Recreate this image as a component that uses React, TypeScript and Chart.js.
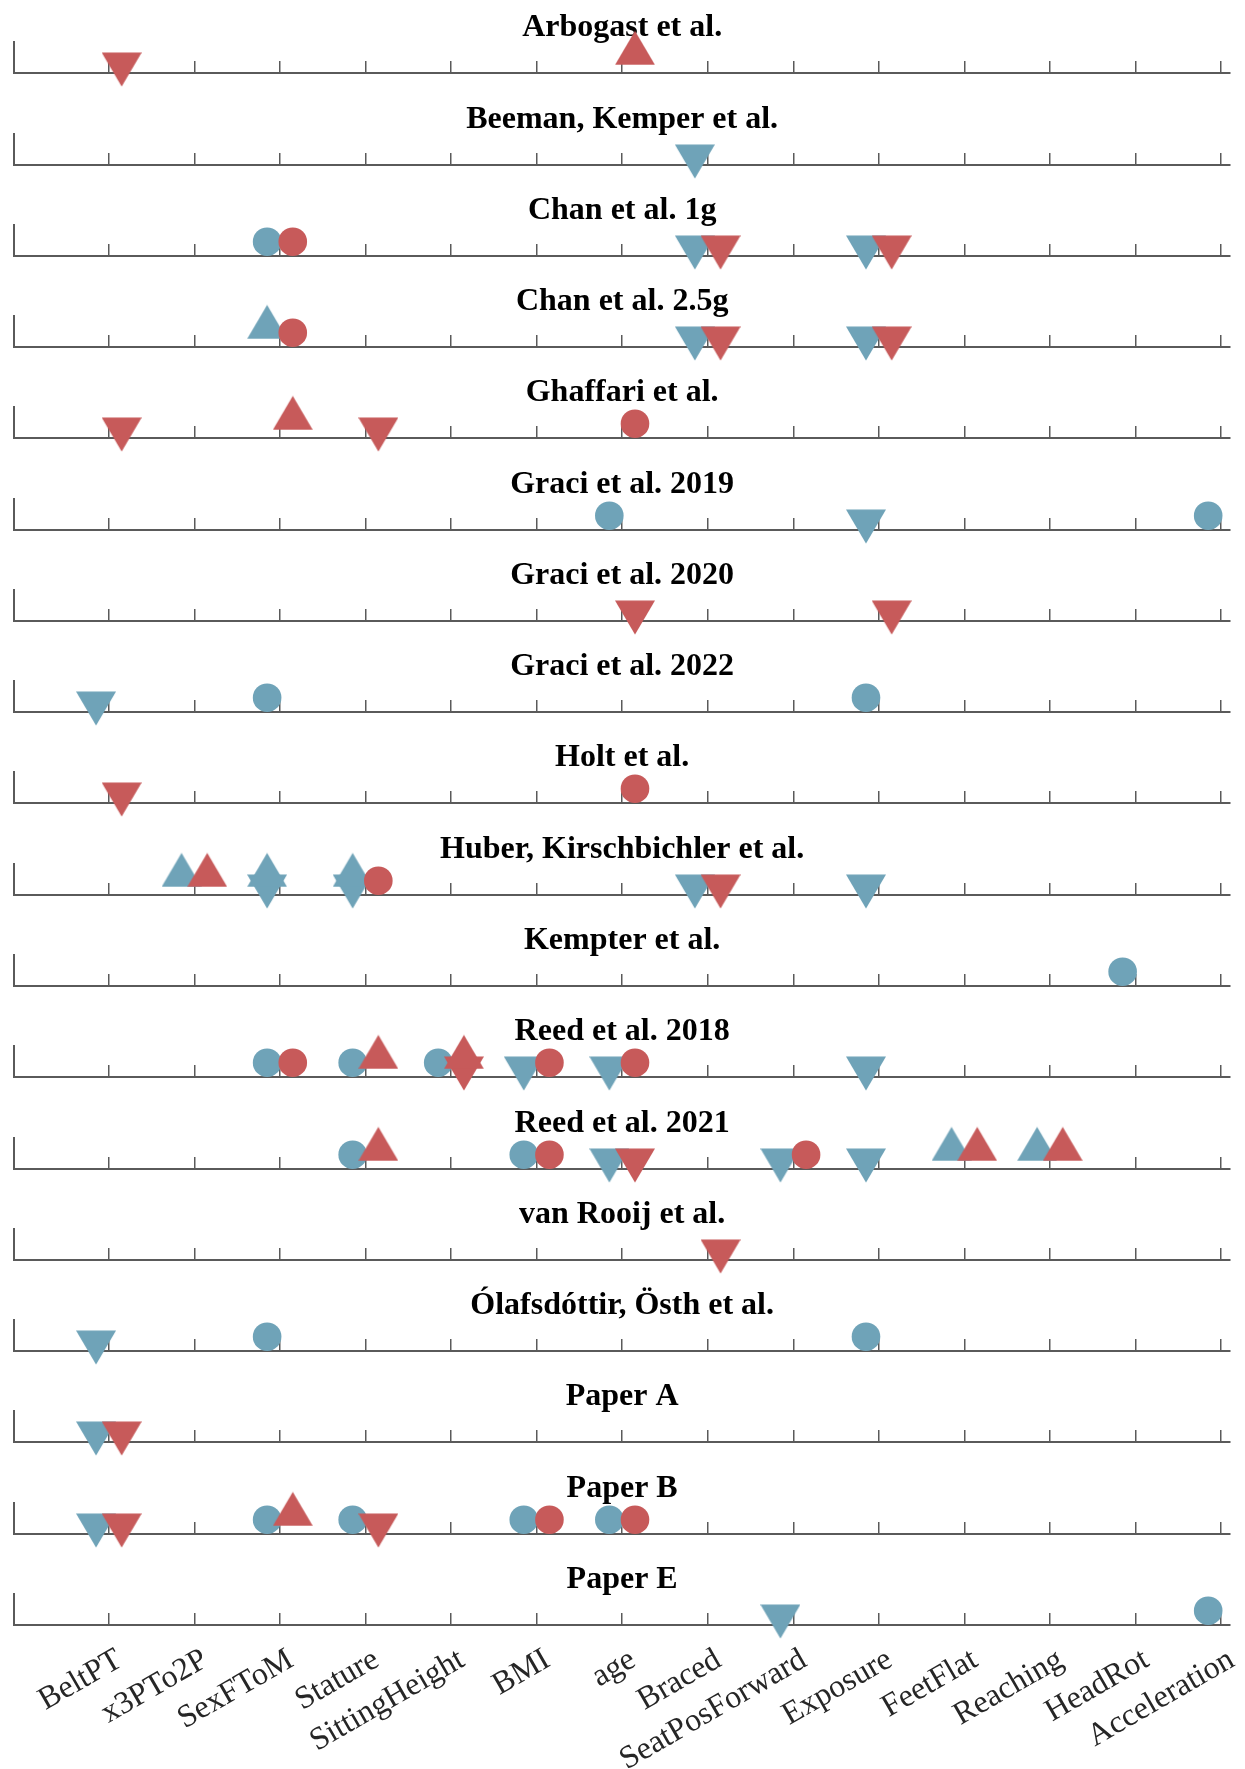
import React, { useEffect, useRef } from 'react';
import { Chart, registerables } from 'chart.js';

Chart.register(...registerables);

// Predictor variables shown along every x axis
const categories = [
  'BeltPT', 'x3PTo2P', 'SexFToM', 'Stature', 'SittingHeight', 'BMI', 'age',
  'Braced', 'SeatPosForward', 'Exposure', 'FeetFlat', 'Reaching', 'HeadRot', 'Acceleration',
];

// One panel per study, top to bottom
const studies = [
  'Arbogast et al.', 'Beeman, Kemper et al.', 'Chan et al. 1g', 'Chan et al. 2.5g',
  'Ghaffari et al.', 'Graci et al. 2019', 'Graci et al. 2020', 'Graci et al. 2022',
  'Holt et al.', 'Huber, Kirschbichler et al.', 'Kempter et al.', 'Reed et al. 2018',
  'Reed et al. 2021', 'van Rooij et al.', 'Ólafsdóttir, Östh et al.', 'Paper A', 'Paper B', 'Paper E',
];

// Effect direction coded as marker level: increase, no effect, decrease
const effectLevels = { up: 1, none: 0, down: -1 };

// Blue group, per study
const blueUp = [
  [], [], [], ['SexFToM'], [], [], [], [], [], ['x3PTo2P', 'SexFToM', 'Stature'],
  [], [], ['FeetFlat', 'Reaching'], [], [], [], [], [],
];
const blueNone = [
  [], [], ['SexFToM'], [], [], ['age', 'Acceleration'], [], ['SexFToM', 'Exposure'], [], [],
  ['HeadRot'], ['SexFToM', 'Stature', 'SittingHeight'], ['Stature', 'BMI'], [],
  ['SexFToM', 'Exposure'], [], ['SexFToM', 'Stature', 'BMI', 'age'], ['Acceleration'],
];
const blueDown = [
  [], ['Braced'], ['Braced', 'Exposure'], ['Braced', 'Exposure'], [], ['Exposure'], [], ['BeltPT'], [],
  ['SexFToM', 'Stature', 'Braced', 'Exposure'], [], ['BMI', 'age', 'Exposure'],
  ['age', 'SeatPosForward', 'Exposure'], [], ['BeltPT'], ['BeltPT'], ['BeltPT'], ['SeatPosForward'],
];

// Red group, per study
const redUp = [
  ['age'], [], [], [], ['SexFToM'], [], [], [], [], ['x3PTo2P'],
  [], ['Stature', 'SittingHeight'], ['Stature', 'FeetFlat', 'Reaching'], [], [], [], ['SexFToM'], [],
];
const redNone = [
  [], [], ['SexFToM'], ['SexFToM'], ['age'], [], [], [], ['age'], ['Stature'],
  [], ['SexFToM', 'BMI', 'age'], ['BMI', 'SeatPosForward'], [], [], [], ['BMI', 'age'], [],
];
const redDown = [
  ['BeltPT'], [], ['Braced', 'Exposure'], ['Braced', 'Exposure'], ['BeltPT', 'Stature'], [],
  ['age', 'Exposure'], [], ['BeltPT'], ['Braced'], [], ['SittingHeight'], ['age'], ['Braced'],
  [], ['BeltPT'], ['BeltPT', 'Stature'], [],
];

const BLUE = '#6FA3B8';
const RED = '#C75A5A';
const AXIS = '#5a5a5a';
const GROUP_SHIFT = 0.15;

const WIDTH = 1245;
const PAGE_HEIGHT = 1769;
const FIRST_AXIS_Y = 73.3;
const PANEL_PITCH = 91.27;
const ABOVE_AXIS = 72;
const BELOW_AXIS = 24;
const PLOT_HEIGHT = 30.6;

function makeTriangle(color: string, up: boolean): HTMLCanvasElement {
  const c = document.createElement('canvas');
  const w = 40;
  const h = 35;
  c.width = w;
  c.height = h;
  const ctx = c.getContext('2d')!;
  ctx.fillStyle = color;
  ctx.beginPath();
  if (up) {
    ctx.moveTo(0, h - 0.5);
    ctx.lineTo(w / 2, 0.5);
    ctx.lineTo(w, h - 0.5);
  } else {
    ctx.moveTo(0, 0.5);
    ctx.lineTo(w / 2, h - 0.5);
    ctx.lineTo(w, 0.5);
  }
  ctx.closePath();
  ctx.fill();
  return c;
}

const panelTitle = {
  id: 'panelTitle',
  beforeDatasetsDraw(chart: any, _args: any, opts: any) {
    const { ctx, chartArea } = chart;
    ctx.save();
    ctx.font = 'bold 32px "Liberation Serif"';
    ctx.fillStyle = '#000000';
    ctx.textAlign = 'center';
    ctx.textBaseline = 'alphabetic';
    ctx.fillText(opts.text, (chartArea.left + chartArea.right) / 2, chartArea.bottom - 37.3);
    ctx.restore();
  },
};

function points(list: string[], shift: number, level: number) {
  return list.map((c) => ({ x: categories.indexOf(c) + 1 + shift, y: level }));
}

function Panel({ index }: { index: number }) {
  const ref = useRef<HTMLCanvasElement | null>(null);
  const isLast = index === studies.length - 1;
  const axisY = Math.round(FIRST_AXIS_Y + PANEL_PITCH * index);
  const top = axisY - ABOVE_AXIS;
  const height = isLast ? PAGE_HEIGHT - top : ABOVE_AXIS + BELOW_AXIS;

  useEffect(() => {
    if (!ref.current) return;
    const triBlueUp = makeTriangle(BLUE, true);
    const triBlueDown = makeTriangle(BLUE, false);
    const triRedUp = makeTriangle(RED, true);
    const triRedDown = makeTriangle(RED, false);

    const marker = (data: any[], color: string, style: any) => ({
      data,
      backgroundColor: color,
      borderWidth: 0,
      pointStyle: style,
      pointRadius: 14.3,
      pointHoverRadius: 14.3,
      pointBorderWidth: 0,
      clip: false as const,
    });

    // earlier datasets are painted last, so the red group sits on top
    const datasets = [
      marker(points(redUp[index], GROUP_SHIFT, effectLevels.up), RED, triRedUp),
      marker(points(redDown[index], GROUP_SHIFT, effectLevels.down), RED, triRedDown),
      marker(points(redNone[index], GROUP_SHIFT, effectLevels.none), RED, 'circle'),
      marker(points(blueUp[index], -GROUP_SHIFT, effectLevels.up), BLUE, triBlueUp),
      marker(points(blueDown[index], -GROUP_SHIFT, effectLevels.down), BLUE, triBlueDown),
      marker(points(blueNone[index], -GROUP_SHIFT, effectLevels.none), BLUE, 'circle'),
    ];

    const chart = new Chart(ref.current, {
      type: 'scatter',
      data: { datasets },
      plugins: [panelTitle],
      options: {
        animation: false,
        responsive: false,
        devicePixelRatio: 1,
        events: [],
        layout: {
          padding: {
            left: 12,
            right: WIDTH - 1230,
            top: ABOVE_AXIS - PLOT_HEIGHT,
            bottom: isLast ? 0 : BELOW_AXIS,
          },
        },
        plugins: {
          legend: { display: false },
          tooltip: { enabled: false },
          panelTitle: { text: studies[index] },
        } as any,
        scales: {
          x: {
            type: 'linear',
            position: 'bottom',
            min: -0.105,
            max: 14.105,
            afterBuildTicks: (s: any) => {
              s.ticks = categories.map((_, i) => ({ value: i + 1 }));
            },
            afterFit: (s: any) => {
              s.height = isLast ? height - ABOVE_AXIS : 0;
              s.paddingLeft = 0;
              s.paddingRight = 0;
            },
            grid: {
              display: true,
              drawOnChartArea: false,
              drawTicks: true,
              tickLength: -12,
              color: AXIS,
              lineWidth: 1.5,
            },
            border: { display: true, color: AXIS, width: 2 },
            ticks: {
              display: isLast,
              autoSkip: false,
              minRotation: 30,
              maxRotation: 30,
              padding: 28,
              labelOffset: 11,
              color: '#262626',
              font: { family: 'Liberation Serif', size: 32 },
              callback: (v: any) => categories[Number(v) - 1] ?? '',
            },
          },
          y: {
            type: 'linear',
            min: -1.32,
            max: 1.51,
            afterFit: (s: any) => {
              s.width = 0;
            },
            grid: { display: false },
            border: { display: true, color: AXIS, width: 2 },
            ticks: { display: false },
          },
        },
      } as any,
    });
    return () => chart.destroy();
  }, [index]);

  return (
    <canvas
      ref={ref}
      width={WIDTH}
      height={height}
      style={{ position: 'absolute', left: 0, top, width: WIDTH, height }}
    />
  );
}

export default function App() {
  return (
    <div
      style={{
        position: 'absolute',
        left: 0,
        top: 0,
        width: WIDTH,
        height: PAGE_HEIGHT,
        background: '#ffffff',
        overflow: 'hidden',
      }}
    >
      {studies.map((_, i) => (
        <Panel key={i} index={i} />
      ))}
    </div>
  );
}
